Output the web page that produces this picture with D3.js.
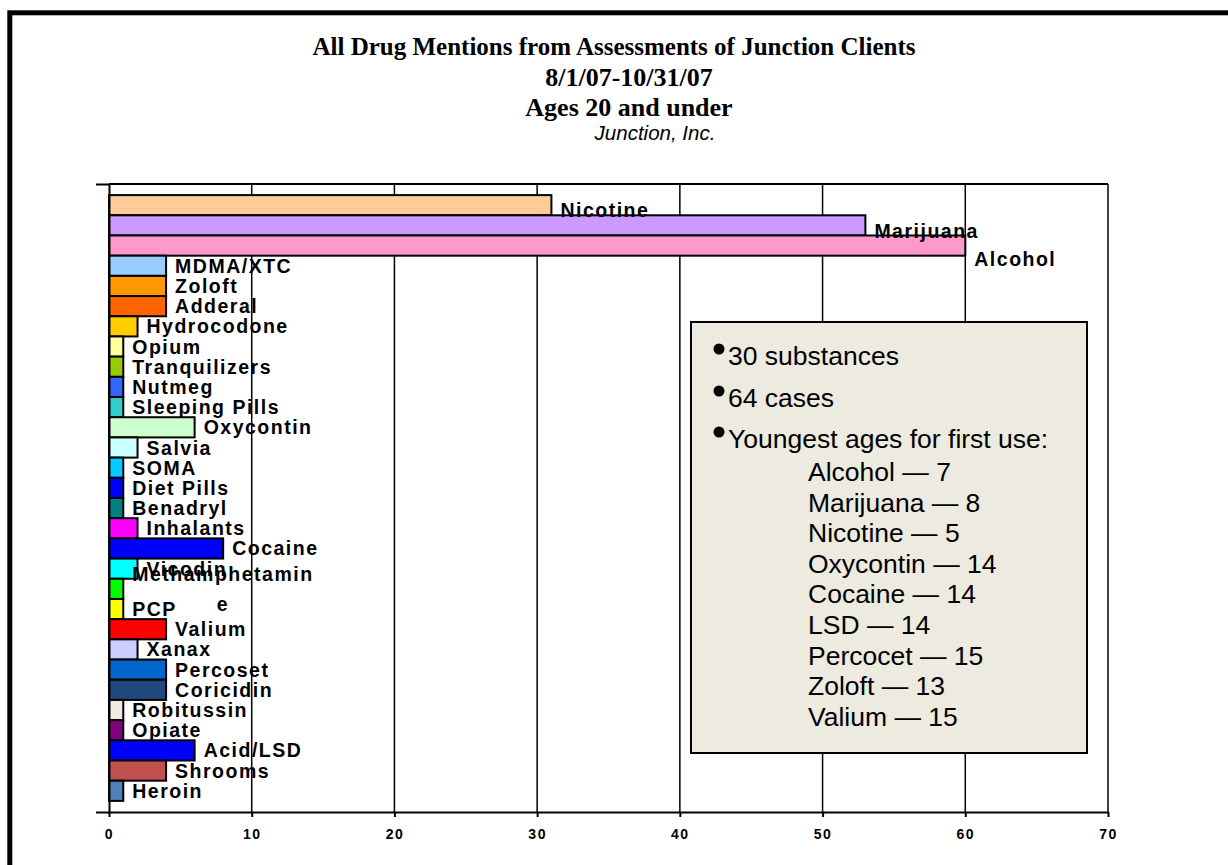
<!DOCTYPE html>
<html>
<head>
<meta charset="utf-8">
<script src="https://cdn.jsdelivr.net/npm/d3@7"></script>
<style>
body{margin:0;background:#fff;}
svg{display:block;}
.lbl{font-family:"Liberation Sans",Arial,sans-serif;font-weight:bold;font-size:19.5px;letter-spacing:1.5px;}
.note{font-family:"Liberation Sans",Arial,sans-serif;font-size:26.5px;}
</style>
</head>
<body>
<svg></svg>
<script>

var drugs=["Nicotine","Marijuana","Alcohol","MDMA/XTC","Zoloft","Adderal","Hydrocodone","Opium",
  "Tranquilizers","Nutmeg","Sleeping Pills","Oxycontin","Salvia","SOMA","Diet Pills","Benadryl",
  "Inhalants","Cocaine","Vicodin","Methamphetamine","PCP","Valium","Xanax","Percoset","Coricidin",
  "Robitussin","Opiate","Acid/LSD","Shrooms","Heroin"]
var mentions=[31,53,60,4,4,4,2,1,1,1,1,6,2,1,1,1,2,8,2,1,1,4,2,4,4,1,1,6,4,1]
var barColors=["#FFCC99","#CC99FF","#FF99CC","#99CCFF","#FF9900","#FF6600","#FFCC00","#FFFF99",
  "#99CC00","#3366FF","#33CCCC","#CCFFCC","#CCFFFF","#00CCFF","#0000FF","#008080",
  "#FF00FF","#0000FF","#00FFFF","#00FF00","#FFFF00","#FF0000","#CCCCFF","#0066CC","#1F497D",
  "#EEECE1","#800080","#0000FF","#C0504D","#4F81BD"]
var xTicks=[0,10,20,30,40,50,60,70]

var titleLines=["All Drug Mentions from Assessments of Junction Clients","8/1/07-10/31/07","Ages 20 and under"]
var subtitle="Junction, Inc."
var notes=["30 substances","64 cases","Youngest ages for first use:"]
var firstUseDrugs=["Alcohol","Marijuana","Nicotine","Oxycontin","Cocaine","LSD","Percocet","Zoloft","Valium"]
var firstUseAges=[7,8,5,14,14,14,15,13,15]

var screen={width:1228,height:865}
var plot={left:109,right:1108,top:184,bottom:812}

var svg=d3.select("svg")
  .attr("width",screen.width)
  .attr("height",screen.height)

// page frame, runs off the right and bottom edge
svg.append("rect")
  .attr("x",9.8).attr("y",12.8)
  .attr("width",1400).attr("height",1000)
  .attr("fill","none")
  .attr("stroke","#000")
  .attr("stroke-width",5)

svg.selectAll(".title")
  .data(titleLines)
  .enter()
  .append("text")
  .attr("class","title")
  .attr("x",function(d,i){return i==0 ? 614 : 629})
  .attr("y",function(d,i){return 55+i*30.5})
  .attr("text-anchor","middle")
  .style("font-family","'Liberation Serif','Times New Roman',serif")
  .style("font-weight","bold")
  .style("font-size",function(d,i){return i==0 ? "25px" : "26px"})
  .text(function(d){return d})

svg.append("text")
  .attr("x",655)
  .attr("y",140)
  .attr("text-anchor","middle")
  .style("font-family","'Liberation Sans',Arial,sans-serif")
  .style("font-style","italic")
  .style("font-size","20.5px")
  .text(subtitle)

var xScale=d3.scaleLinear()
  .domain([0,70])
  .range([plot.left,plot.right])

var yScale=d3.scaleBand()
  .domain(drugs)
  .range([plot.top,plot.bottom])
  .paddingInner(0)
  .paddingOuter(0.55)

// vertical grid lines (the 70 line doubles as the right edge)
svg.append("g")
  .selectAll("line")
  .data(xTicks.slice(1))
  .enter()
  .append("line")
  .attr("x1",function(d){return xScale(d)})
  .attr("x2",function(d){return xScale(d)})
  .attr("y1",plot.top)
  .attr("y2",plot.bottom)
  .attr("stroke","#000")
  .attr("stroke-width",1.5)

// top edge of plot area
svg.append("line")
  .attr("x1",plot.left).attr("x2",plot.right)
  .attr("y1",plot.top).attr("y2",plot.top)
  .attr("stroke","#000")
  .attr("stroke-width",2)

var bars=svg.append("g")

bars.selectAll("rect")
  .data(drugs)
  .enter()
  .append("rect")
  .attr("x",xScale(0))
  .attr("y",function(d){return yScale(d)})
  .attr("width",function(d,i){return xScale(mentions[i])-xScale(0)})
  .attr("height",yScale.bandwidth())
  .attr("fill",function(d,i){return barColors[i]})
  .attr("stroke","#000")
  .attr("stroke-width",2)

// Excel pushed the three long bar labels down a little
var nudge={"Nicotine":5,"Marijuana":6,"Alcohol":13}
var wrapAt=14

bars.selectAll(".lbl")
  .data(drugs)
  .enter()
  .append("text")
  .attr("class","lbl")
  .attr("x",function(d,i){return xScale(mentions[i])+9})
  .attr("y",function(d){return yScale(d)+yScale.bandwidth()/2+7+(nudge[d]||0)})
  .each(function(d){
    var t=d3.select(this)
    if(d.length<=wrapAt){
      t.text(d)
      return
    }
    var x0=+t.attr("x")
    var first=t.append("tspan").attr("x",x0).attr("dy",-15).text(d.slice(0,wrapAt))
    var mid=x0+first.node().getComputedTextLength()/2
    first.attr("x",mid)
    t.append("tspan").attr("x",mid).attr("dy",30).text(d.slice(wrapAt))
    t.attr("text-anchor","middle")
  })

var xAxis=d3.axisBottom(xScale)
  .tickValues(xTicks)
  .tickSizeInner(5)
  .tickSizeOuter(0)
  .tickPadding(12)

var gx=svg.append("g")
  .attr("transform","translate(0,"+plot.bottom+")")
  .call(xAxis)
gx.attr("font-size",null)
gx.select(".domain").attr("stroke-width",2)
gx.selectAll(".tick line").attr("stroke-width",2)
gx.selectAll(".tick text")
  .style("font-family","'Liberation Sans',Arial,sans-serif")
  .style("font-weight","bold")
  .style("font-size","14px")
  .style("letter-spacing","1.5px")
  .attr("fill","#000")

var yAxis=d3.axisLeft(yScale)
  .tickValues([])
  .tickSizeOuter(13)

svg.append("g")
  .attr("transform","translate("+plot.left+",0)")
  .call(yAxis)
  .select(".domain")
  .attr("stroke-width",2)

// text box
var box=svg.append("g")

box.append("rect")
  .attr("x",691).attr("y",322)
  .attr("width",396).attr("height",431)
  .attr("fill","#EDEAE0")
  .attr("stroke","#000")
  .attr("stroke-width",2)

var noteY=[365,407,448]

box.selectAll("circle")
  .data(notes)
  .enter()
  .append("circle")
  .attr("cx",719)
  .attr("cy",function(d,i){return noteY[i]-16})
  .attr("r",5.5)
  .attr("fill","#000")

box.selectAll(".note")
  .data(notes)
  .enter()
  .append("text")
  .attr("class","note")
  .attr("x",728)
  .attr("y",function(d,i){return noteY[i]})
  .text(function(d){return d})

box.selectAll(".age")
  .data(firstUseDrugs)
  .enter()
  .append("text")
  .attr("class","note age")
  .attr("x",808)
  .attr("y",function(d,i){return 481+i*30.6})
  .text(function(d,i){return d+" \u2014 "+firstUseAges[i]})

</script>
</body>
</html>
